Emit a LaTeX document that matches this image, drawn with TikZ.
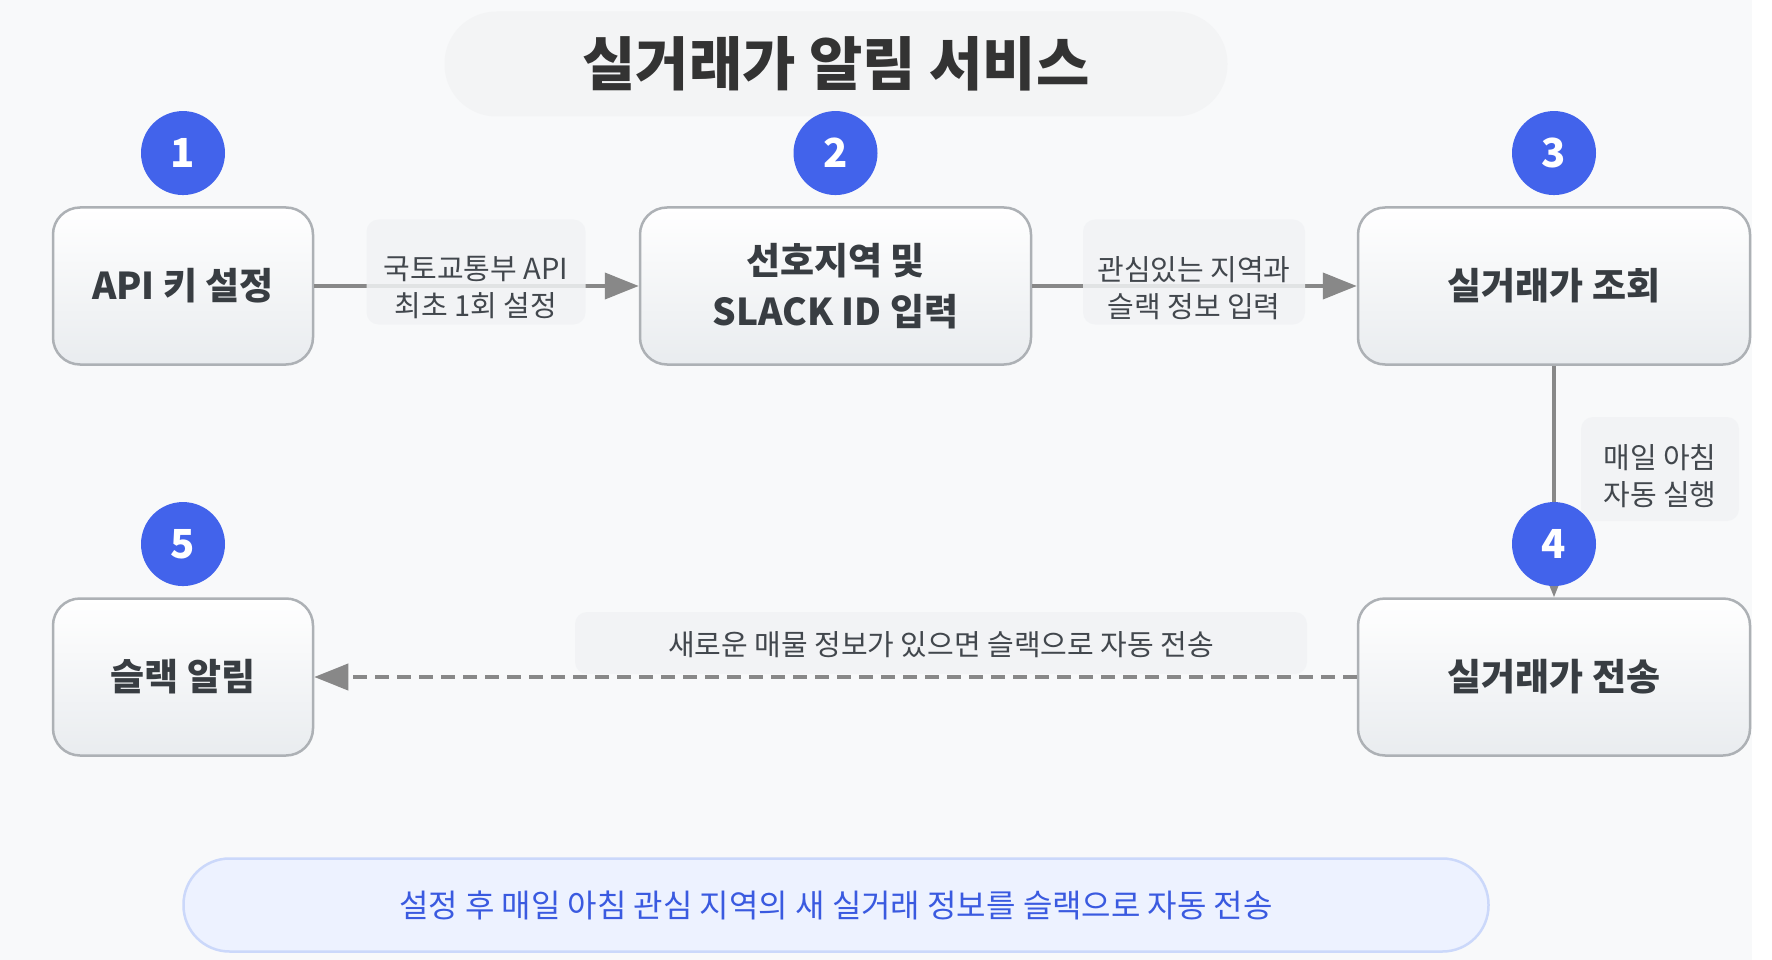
\documentclass[tikz,border=0pt]{standalone}
\usepackage{fontspec}
\setmainfont{Noto Sans CJK KR}
\usepackage{tikz}
\usetikzlibrary{arrows.meta,positioning}

\definecolor{bgcol}{HTML}{F8F9FA}
\definecolor{pillgray}{HTML}{F3F4F5}
\definecolor{titletext}{HTML}{333333}
\definecolor{boxline}{HTML}{ADB1B5}
\definecolor{boxbot}{HTML}{E9ECEF}
\definecolor{boxtext}{HTML}{383D42}
\definecolor{dotblue}{HTML}{4263EB}
\definecolor{flowgray}{HTML}{888888}
\definecolor{lblfill}{HTML}{F1F3F5}
\definecolor{lbltextcol}{HTML}{42474D}
\definecolor{notefill}{HTML}{EDF2FF}
\definecolor{noteline}{HTML}{CBD8FA}
\definecolor{notetext}{HTML}{3A5AE0}

\begin{document}
\begin{tikzpicture}[x=1pt,y=-1pt,
    stepbox/.style={draw=boxline, line width=2.5pt, rounded corners=27pt,
      top color=white, bottom color=boxbot, minimum height=157pt,
      text=boxtext, align=center, font=\fontsize{37}{51}\selectfont\bfseries},
    numdot/.style={circle, fill=dotblue, text=white, minimum size=84pt,
      inner sep=0pt, font=\fontsize{40}{40}\selectfont\bfseries},
    flow/.style={draw=flowgray, line width=4pt, -{Triangle[length=34pt,width=26pt]}},
    lblbg/.style={fill=lblfill, fill opacity=0.85, rounded corners=12pt, inner sep=0pt},
    lbltext/.style={text=lbltextcol, align=center, font=\fontsize{29}{37}\selectfont}
  ]
      % Canvas and background
      \useasboundingbox (0,0) rectangle (1772,960);
      \fill[white] (0,0) rectangle (1772,960);
      \fill[bgcol] (0,0) rectangle (1752,960);

      % Title
      \node[fill=pillgray, rounded corners=52pt, minimum width=783pt, minimum height=105pt,
        text=titletext, font=\fontsize{58}{58}\selectfont\bfseries] (title) at (836,64) {실거래가 알림 서비스};

      % Steps
      \node[stepbox, minimum width=260pt] (apikey) at (183,286) {API 키 설정};
      \node[stepbox, minimum width=391pt] (region) at (835.5,286) {선호지역 및\\SLACK ID 입력};
      \node[stepbox, minimum width=392pt] (lookup) at (1554,286) {실거래가 조회};
      \node[stepbox, minimum width=392pt] (send) at (1554,677) {실거래가 전송};
      \node[stepbox, minimum width=260pt] (notify) at (183,677) {슬랙 알림};

      % Connectors
      \draw[flow] (apikey.east) -- (region.west);
      \draw[flow] (region.east) -- (lookup.west);
      \draw[flow] (lookup.south) -- (send.north);
      \draw[flow, dash pattern=on 14pt off 8pt] (send.west) -- (notify.east);

      % Connector labels
      \node[lblbg, minimum width=219pt, minimum height=105pt] (lab1) at (476,272) {};
      \node[lbltext, yshift=-16pt] (lab1t) at (lab1) {국토교통부 API\\최초 1회 설정};
      \node[lblbg, minimum width=222pt, minimum height=105pt] (lab2) at (1194,272) {};
      \node[lbltext, yshift=-16pt] (lab2t) at (lab2) {관심있는 지역과\\슬랙 정보 입력};
      \node[lblbg, minimum width=158pt, minimum height=104pt] (lab3) at (1660,469) {};
      \node[lbltext, yshift=-7pt] (lab3t) at (lab3) {매일 아침\\자동 실행};
      \node[lblbg, minimum width=732pt, minimum height=62pt] (lab4) at (941,643) {};
      \node[lbltext, yshift=-2pt] (lab4t) at (lab4) {새로운 매물 정보가 있으면 슬랙으로 자동 전송};

      % Step numbers
      \node[numdot, above=11pt of apikey] (n1) {1};
      \node[numdot, above=11pt of region] (n2) {2};
      \node[numdot, above=11pt of lookup] (n3) {3};
      \node[numdot, above=11pt of send] (n4) {4};
      \node[numdot, above=11pt of notify] (n5) {5};

      % Summary note
      \node[fill=notefill, draw=noteline, line width=2.5pt, rounded corners=46pt,
        minimum width=1305pt, minimum height=93pt, text=notetext,
        font=\fontsize{32}{32}\selectfont] (note) at (836,905) {설정 후 매일 아침 관심 지역의 새 실거래 정보를 슬랙으로 자동 전송};
\end{tikzpicture}
\end{document}
